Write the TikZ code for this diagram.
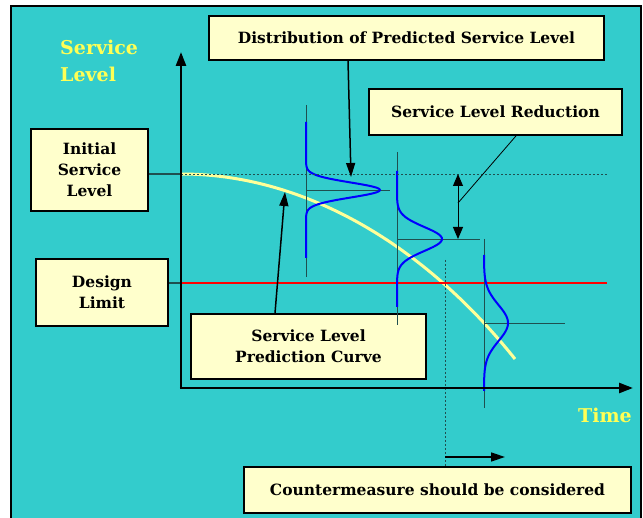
\documentclass[tikz,border=0pt]{standalone}
\usepackage{fontspec}
\setmainfont{DejaVu Serif}
\usetikzlibrary{arrows.meta}
\definecolor{bgcyan}{HTML}{33CCCC}
\definecolor{boxyellow}{HTML}{FFFFCC}
\definecolor{labelyellow}{HTML}{FFFF55}
\definecolor{curveyellow}{HTML}{FFFF99}
\definecolor{guide}{HTML}{1F4F4F}
\begin{document}
\begin{tikzpicture}[x=1pt,y=-1pt]
    \tikzstyle{box}=[draw,fill=boxyellow,line width=1.8pt,align=center,inner sep=0pt,font=\fontsize{15.5}{21}\selectfont\bfseries];
    \tikzstyle{title}=[text=labelyellow,align=left,inner sep=0pt,font=\fontsize{19}{27}\selectfont\bfseries];
    \tikzstyle{thin}=[guide,line width=0.8pt];
    \tikzstyle{dots}=[guide,line width=0.8pt,dash pattern=on 2pt off 2pt];
    \tikzstyle{dist}=[blue,line width=2pt];
    \tikzstyle{axis}=[line width=2.5pt,-{Triangle[length=14pt,width=10pt]}];
    \tikzstyle{pointer}=[line width=1.5pt,-{Triangle[length=14pt,width=9pt]}];

    \useasboundingbox (0,0) rectangle (643,518);
    \draw[fill=bgcyan,line width=1.5pt] (11,6) rectangle (641,530);

    \coordinate (O) at (181,388); \coordinate (ytop) at (181,52);
    \coordinate (xend) at (633,388); \coordinate (init0) at (181,174);
    \coordinate (init1) at (607,174); \coordinate (lim0) at (181,283);
    \coordinate (lim1) at (607,283); \coordinate (dtip) at (351,177);
    \coordinate (ctip) at (285,192); \coordinate (rfoot) at (458,203);
    \coordinate (rtop) at (458,174); \coordinate (rbot) at (458,239);
    \coordinate (cross) at (445,260); \coordinate (cm0) at (445,457);
    \coordinate (cm1) at (505,457);

    \node (sl) [title,anchor=north west] at (60,40) {Service\\Level};
    \node (time) [title,anchor=base west] at (578,423) {Time};

    \node (init) [box,minimum width=117pt,minimum height=82pt] at (89.5,170)
    {Initial\\Service\\Level}; \node (limit) [box,minimum width=132pt,
    minimum height=67pt] at (102,292.5) {Design\\Limit};
    \node (dist) [box,minimum width=395pt,minimum height=44pt] at
    (406.5,38) {Distribution of Predicted Service Level};
    \node (reduct) [box,minimum width=253pt,minimum height=46pt] at
    (495.5,112) {Service Level Reduction};
    \node (curve) [box,minimum width=235pt,minimum height=65pt] at
    (308.5,346.5) {Service Level\\Prediction Curve};
    \node (cm) [box,minimum width=387pt,minimum height=46pt] at
    (437.5,490) {Countermeasure should be considered};

    \draw[curveyellow,line width=3pt] (init0) .. controls (300,174) and
    (420,240) .. (515,359);
    \draw[red,line width=2.5pt] (lim0) -- (lim1);

    \draw[thin] (306,105) -- (306,277) (306,190) -- (390,190);
    \draw[thin] (397,152) -- (397,325) (397,239) -- (480,239);
    \draw[thin] (484,239) -- (484,408) (484,323) -- (565,323);
    \draw[dist] plot[domain=-68:68,samples=121]
    ({306+74*exp(-(\x*\x)/112)},{190+\x});
    \draw[dist] plot[domain=-68:68,samples=121]
    ({397+45*exp(-(\x*\x)/288)},{239+\x});
    \draw[dist] plot[domain=-68:68,samples=121]
    ({484+24*exp(-(\x*\x)/648)},{323+\x});

    \draw[dots] (init0) -- (init1) (cross) -- (cross |- cm.north);
    \draw[guide,line width=1.5pt] (init.east |- init0) -- (init0)
    (limit.east |- lim0) -- (lim0);

    \draw[axis] (O) -- (ytop); \draw[axis] ([xshift=-1.25pt]O) -- (xend);

    \path (dist.south -| 348,0) edge[pointer] (dtip)
    (curve.north -| 275,0) edge[pointer] (ctip)
    (reduct.south -| 516,0) edge[line width=0.8pt] (rfoot)
    (rtop) edge[line width=1pt,{Triangle[length=12pt,width=10pt]}-{Triangle[length=12pt,width=10pt]}] (rbot)
    (cm0) edge[pointer] (cm1);
\end{tikzpicture}
\end{document}
